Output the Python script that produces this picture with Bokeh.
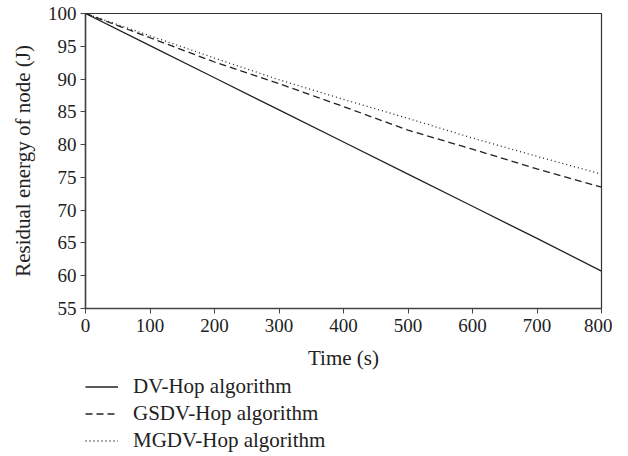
from bokeh.plotting import figure
from bokeh.layouts import column
from bokeh.models import Legend, LegendItem, FixedTicker, Range1d
from bokeh.embed import file_html
from bokeh.resources import INLINE

time_s = [0, 100, 200, 300, 400, 500, 600, 700, 800]
dv_hop = [100, 95.1, 90.2, 85.3, 80.4, 75.5, 70.6, 65.7, 60.7]
gsdv_hop = [100, 96.3, 92.6, 89.3, 85.8, 82.2, 79.3, 76.3, 73.5]
mgdv_hop = [100, 96.6, 93.2, 89.9, 86.9, 84.0, 81.0, 78.2, 75.5]

series_names = ["DV-Hop algorithm", "GSDV-Hop algorithm", "MGDV-Hop algorithm"]
x_ticks = [0, 100, 200, 300, 400, 500, 600, 700, 800]
y_ticks = [55, 60, 65, 70, 75, 80, 85, 90, 95, 100]

FONT = "Liberation Serif"
TXT = "#222222"
LC = "#222222"
styles = [dict(line_dash="solid"), dict(line_dash="7 4"), dict(line_dash="1 3")]
series = [dv_hop, gsdv_hop, mgdv_hop]

p = figure(frame_width=516, frame_height=295, output_backend="svg", toolbar_location=None,
           x_range=Range1d(0, 800), y_range=Range1d(55, 100),
           min_border_left=85, min_border_right=11, min_border_top=13, min_border_bottom=66)

p.grid.visible = False
p.outline_line_color = "#333333"
p.outline_line_width = 1.2
p.background_fill_color = "white"
p.border_fill_color = "white"

for ys, st in zip(series, styles):
    p.line(time_s, ys, line_color=LC, line_width=1.3, **st)

for ax in (p.xaxis[0], p.yaxis[0]):
    ax.axis_line_color = "#444444"
    ax.axis_line_width = 1.5
    ax.major_tick_line_color = "#444444"
    ax.major_tick_in = 0
    ax.major_tick_out = 5
    ax.minor_tick_line_color = None
    ax.major_label_text_font = FONT
    ax.major_label_text_font_size = "19px"
    ax.major_label_text_color = TXT
    ax.axis_label_text_font = FONT
    ax.axis_label_text_font_size = "21px"
    ax.axis_label_text_font_style = "normal"
    ax.axis_label_text_color = TXT

p.xaxis.ticker = FixedTicker(ticks=x_ticks)
p.yaxis.ticker = FixedTicker(ticks=y_ticks)
p.xaxis.axis_label = "Time (s)"
p.yaxis.axis_label = "Residual energy of node (J)"
p.xaxis.major_label_standoff = 5
p.yaxis.major_label_standoff = 4
p.xaxis.axis_label_standoff = 11
p.yaxis.axis_label_standoff = 10

# Legend panel below the chart (same series drawn out of view, only their legend shows)
lg = figure(frame_width=516, height=80, output_backend="svg", toolbar_location=None,
            x_range=Range1d(0, 1), y_range=Range1d(0, 1),
            min_border_left=85, min_border_right=11, min_border_top=0, min_border_bottom=0)
lg.axis.visible = False
lg.grid.visible = False
lg.outline_line_color = None
lg.background_fill_color = "white"
lg.border_fill_color = "white"

items = []
for name, ys, st in zip(series_names, series, styles):
    r = lg.line(time_s, ys, line_color=LC, line_width=1.3, **st)
    items.append(LegendItem(label=name, renderers=[r]))

legend = Legend(items=items, location="top_left")
legend.border_line_color = None
legend.background_fill_alpha = 0
legend.label_text_font = FONT
legend.label_text_font_size = "21px"
legend.label_text_color = TXT
legend.glyph_width = 33
legend.glyph_height = 23
legend.label_height = 23
legend.label_standoff = 15
legend.spacing = 2
legend.padding = 0
legend.margin = 0
lg.add_layout(legend, "center")

layout = column(p, lg, spacing=0)
open("out.html", "w").write(file_html(layout, INLINE))
